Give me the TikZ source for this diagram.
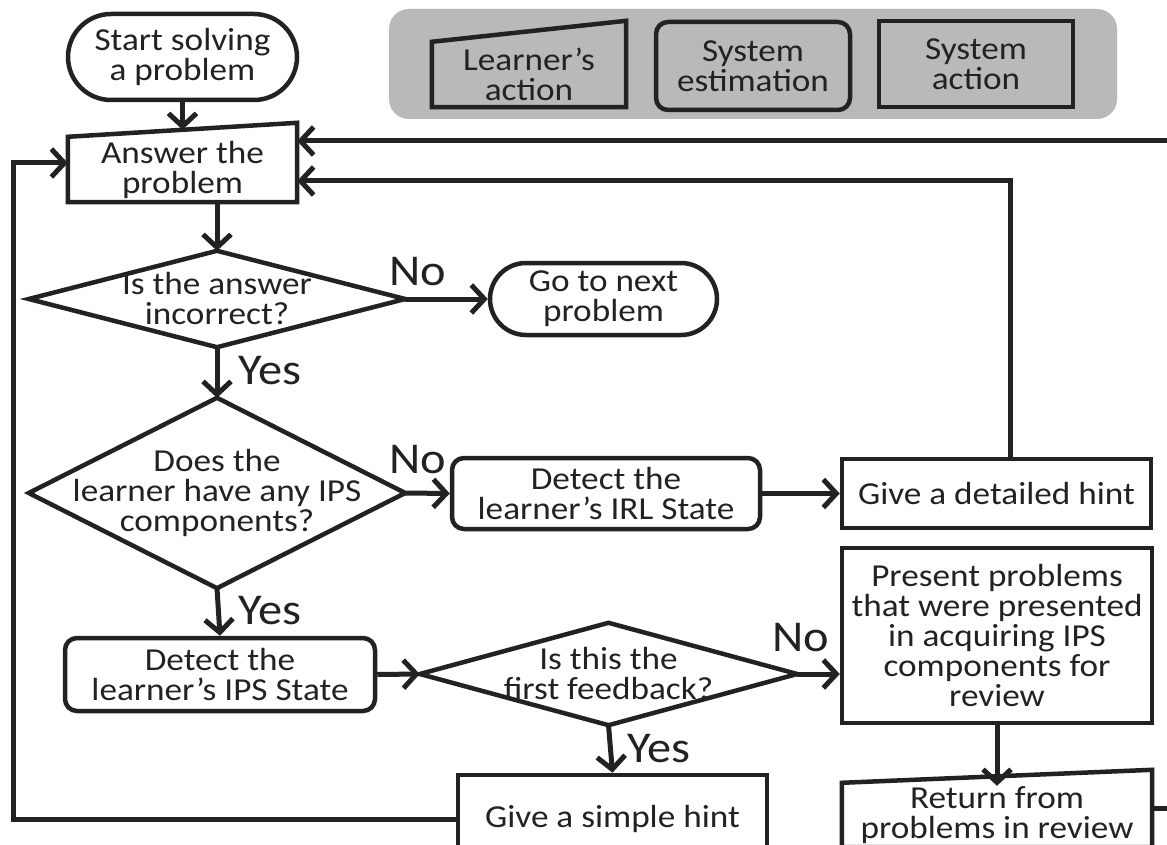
\documentclass[tikz,border=0pt]{standalone}
\usepackage{fontspec}
\setmainfont{Carlito}[FakeStretch=1.1]
\usetikzlibrary{arrows.meta}

\definecolor{ink}{HTML}{222222}
\definecolor{legendbg}{HTML}{B9B9B9}

% learner's action: box whose top edge rises to the right
\newcommand\learnerbox[2]{%
  \draw[ink, line width=4.5pt] (#1.south west) -- (#1.south east)
    -- ([yshift=#2]#1.north east) -- (#1.north west) -- cycle;}
% decision: diamond through the four side anchors of a plain node
\newcommand\decisionbox[1]{%
  \draw[ink, line width=4.5pt] (#1.west) -- (#1.north) -- (#1.east)
    -- (#1.south) -- cycle;}

\begin{document}
\begin{tikzpicture}[x=1pt, y=-1pt,
  txt/.style={font=\fontsize{32}{30}\selectfont, align=center, inner sep=0pt, text=ink},
  sysact/.style={txt, draw=ink, line width=4.5pt, rectangle},
  sysest/.style={txt, draw=ink, line width=4.5pt, rounded corners=12pt},
  term/.style={txt, draw=ink, line width=4.5pt, rounded corners=#1},
  lbl/.style={font=\fontsize{44}{44}\selectfont, text=ink, inner sep=0pt},
  arr/.style={draw=ink, line width=5pt, -{Straight Barb[length=13pt,width=28pt]}}
]
\useasboundingbox (0,0) rectangle (1167,845);

% legend
\fill[legendbg, rounded corners=20pt] (389,9) rectangle (1117,119);
\node[txt, minimum width=194pt, minimum height=65pt] (legL) at (529,74.5) {Learner’s\\action};
\learnerbox{legL}{21pt}
\node[sysest, minimum width=194pt, minimum height=88pt] (legE) at (753,66) {System\\estimation};
\node[sysact, minimum width=194pt, minimum height=86pt] (legA) at (976,64) {System\\action};

% flow nodes
\node[term=43pt, minimum width=229pt, minimum height=86pt] (start) at (182.5,57) {Start solving\\a problem};
\node[txt, minimum width=229pt, minimum height=65pt] (ans) at (182.5,169.5) {Answer the\\problem};
\learnerbox{ans}{14pt}

\node[txt, minimum width=376pt, minimum height=96pt] (d1) at (217,299) {Is the answer\\incorrect?};
\decisionbox{d1}
\node[term=36pt, minimum width=227pt, minimum height=72pt] (next) at (603.5,299) {Go to next\\problem};

\node[txt, minimum width=376pt, minimum height=190pt] (d2) at (217,493) {Does the\\learner have any IPS\\components?};
\decisionbox{d2}
\node[sysest, minimum width=308pt, minimum height=71pt] (irl) at (606,493.5) {Detect the\\learner’s IRL State};
\node[sysact, minimum width=309pt, minimum height=69pt] (detail) at (996.5,493.5) {Give a detailed hint};

\node[sysact, minimum width=310pt, minimum height=175pt] (present) at (997,635.5)
  {Present problems\\that were presented\\in acquiring IPS\\components for\\review};
\node[sysest, minimum width=310pt, minimum height=73pt] (ips) at (220,674.5) {Detect the\\learner’s IPS State};
\node[txt, minimum width=377pt, minimum height=102pt] (d3) at (608.5,674) {Is this the\\first feedback?};
\decisionbox{d3}

\node[sysact, minimum width=309pt, minimum height=88pt] (simple) at (612.5,819) {Give a simple hint};
\node[txt, minimum width=310pt, minimum height=64pt] (ret) at (997,815) {Return from\\problems in review};
\learnerbox{ret}{13pt}

% connectors
\draw[arr] (start.south) -- ([yshift=7pt]start.south |- ans.north);
\draw[arr] (d1.north |- ans.south) -- (d1.north);
\draw[arr] (d1.east) -- (next.west);
\node[lbl] (no1) at (418,272) {No};
\draw[arr] (d1.south) -- (d2.north);
\node[lbl] (yes1) at (270,371) {Yes};
\draw[arr] (d2.east) -- (irl.west);
\node[lbl] (no2) at (418,460) {No};
\draw[arr] (irl.east) -- (detail.west);
\draw[arr] ([xshift=13.5pt]detail.north) |- ([yshift=-11.5pt]ans.east);
\draw[arr] (d2.south) -- (ips.north);
\node[lbl] (yes2) at (270,611) {Yes};
\draw[arr] (ips.east) -- (d3.west);
\draw[arr] (d3.east) -- (present.west |- d3.east);
\node[lbl] (no3) at (801,638) {No};
\draw[arr] (d3.south) -- (simple.north);
\node[lbl] (yes3) at (659,749) {Yes};
\draw[arr] (present.south) -- ([yshift=-3pt]present.south |- ret.north);

% loops back to answering the problem
\coordinate (leftrail) at (13,163);
\draw[arr] (simple.west) -| (leftrail) -- (ans.west |- leftrail);
\coordinate (rightrail) at (1169.5,141);
\draw[arr] ([yshift=7pt]ret.east) -| (rightrail) -- (ans.east |- rightrail);
\end{tikzpicture}
\end{document}
